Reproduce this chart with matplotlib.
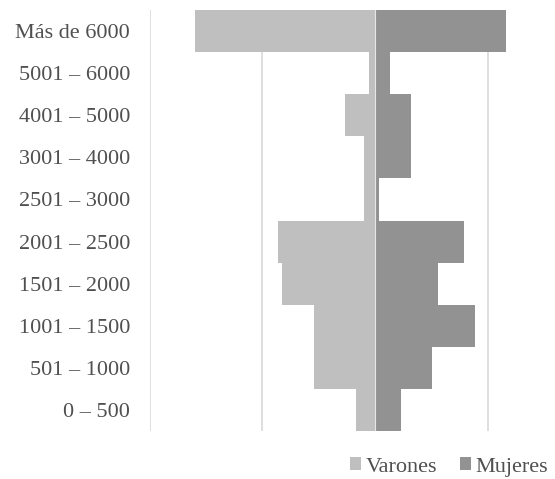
import matplotlib
matplotlib.use("Agg")
import matplotlib.pyplot as plt
import numpy as np

# categorias (de abajo hacia arriba)
categorias = ["0 – 500", "501 – 1000", "1001 – 1500", "1501 – 2000", "2001 – 2500",
              "2501 – 3000", "3001 – 4000", "4001 – 5000", "5001 – 6000", "Más de 6000"]
varones = [1.75, 5.47, 5.47, 8.29, 8.63, 0.98, 0.98, 2.64, 0.59, 15.95]
mujeres = [2.31, 4.99, 8.81, 5.55, 7.84, 0.35, 3.13, 3.13, 1.31, 11.59]

col_var = "#bfbfbf"
col_muj = "#929292"
col_txt = "#505050"

plt.rcParams['font.family'] = ['Liberation Serif', 'DejaVu Serif']

fig = plt.figure(figsize=(5.55, 4.79), dpi=100)
ax = fig.add_axes([0.2697, 0.1002, 0.7113, 0.8789])

y = np.arange(len(categorias))
ax.barh(y, [-v for v in varones], height=1.0, color=col_var, linewidth=0,
        label="Varones", zorder=2)
ax.barh(y, mujeres, height=1.0, color=col_muj, linewidth=0,
        label="Mujeres", zorder=2)
# linea central clara entre las dos series
ax.axvline(0, color="#e6e6e6", linewidth=0.8, zorder=3)

ax.set_xlim(-20, 15)
ax.set_ylim(-0.5, len(categorias) - 0.5)
ax.set_xticks([-20, -10, 0, 10])
ax.set_xticklabels([])
ax.tick_params(axis="x", length=0)
ax.tick_params(axis="y", length=0, pad=14, labelsize=16, labelcolor=col_txt)
ax.set_yticks(y)
ax.set_yticklabels(categorias)
ax.grid(axis="x", color="#d9d9d9", linewidth=1.2, zorder=0)
for s in ax.spines.values():
    s.set_visible(False)

leg = fig.legend(loc="center", bbox_to_anchor=(0.809, 0.025), ncol=2, frameon=False,
                 fontsize=16, handlelength=0.5, handleheight=0.5, handletextpad=0.2,
                 columnspacing=1.0, labelcolor=col_txt)

fig.savefig("out.png", dpi=100)
